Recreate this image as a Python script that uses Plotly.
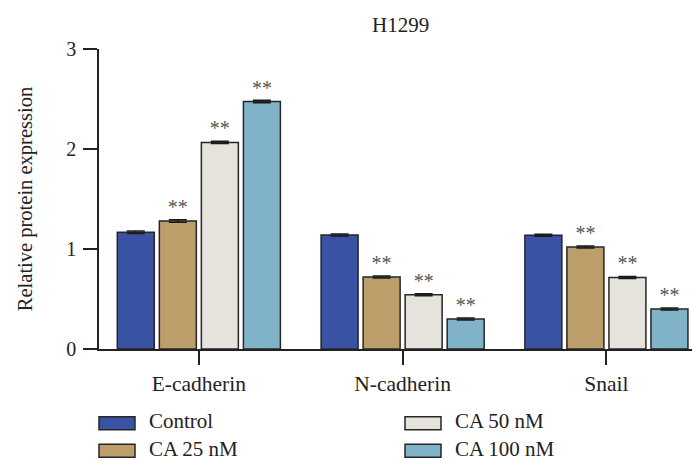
import plotly.graph_objects as go

# ---- data ----
categories = ["E-cadherin", "N-cadherin", "Snail"]
series_names = ["Control", "CA 25 nM", "CA 50 nM", "CA 100 nM"]
control = [1.168, 1.140, 1.138]
ca25 = [1.280, 0.720, 1.019]
ca50 = [2.066, 0.543, 0.716]
ca100 = [2.475, 0.300, 0.400]
errors_control = [0.012, 0.010, 0.010]
errors_ca25 = [0.012, 0.010, 0.010]
errors_ca50 = [0.012, 0.010, 0.010]
errors_ca100 = [0.012, 0.010, 0.010]
significance = ["", "**", "**", "**"]
y_ticks = [0, 1, 2, 3]

colors = ["#3A52A4", "#BC9E6B", "#E6E3DC", "#80B3C8"]
FONT = "Liberation Serif"

values = [control, ca25, ca50, ca100]
errs = [errors_control, errors_ca25, errors_ca50, errors_ca100]

fig = go.Figure()
for name, vals, err, col, sig in zip(series_names, values, errs, colors, significance):
    fig.add_trace(go.Bar(
        x=categories, y=vals, name=name,
        marker=dict(color=col, line=dict(color="#262626", width=1.5)),
        error_y=dict(type="data", array=err, visible=True, color="#1a1a1a",
                     thickness=1.5, width=9),
        text=[sig] * len(vals), textposition="outside",
        textfont=dict(family=FONT, size=20, color="#555555"),
        cliponaxis=False, showlegend=False,
    ))

fig.update_layout(
    width=692, height=460,
    margin=dict(l=99, r=0, t=48.5, b=110.5),
    paper_bgcolor="white", plot_bgcolor="white",
    barmode="group", bargap=0.175, bargroupgap=0.12,
    font=dict(family=FONT, size=20, color="#222222"),
    showlegend=False,
    xaxis=dict(
        range=[-0.49, 2.42], showline=True, linecolor="#222222", linewidth=1.5,
        ticks="outside", ticklen=14, tickwidth=1.5, tickcolor="#222222",
        tickfont=dict(family=FONT, size=21.5, color="#222222"),
        showgrid=False, zeroline=False,
    ),
    yaxis=dict(
        range=[0, 3], tickvals=y_ticks, showline=True, linecolor="#222222", linewidth=1.5,
        ticks="outside", ticklen=14, tickwidth=1.5, tickcolor="#222222",
        tickfont=dict(family=FONT, size=20, color="#222222"),
        ticklabelstandoff=3,
        showgrid=False, zeroline=False,
        title=dict(text="Relative protein expression", font=dict(family=FONT, size=20.5, color="#222222"), standoff=28),
    ),
)

# title
fig.add_annotation(text="H1299", xref="paper", yref="paper", x=0.508, y=1.08,
                   xanchor="center", yanchor="middle", showarrow=False,
                   font=dict(family=FONT, size=21, color="#222222"))

# manual legend (two columns)
PLOT_W, PLOT_H, LEFT, BOTTOM = 593.0, 301.0, 99.0, 349.5
def px_x(x):
    return (x - LEFT) / PLOT_W
def px_y(y):
    return (BOTTOM - y) / PLOT_H

legend_pos = [(99, 424), (99, 451.5), (405, 424), (405, 451.5)]
for (lx, ly), name, col in zip(legend_pos, series_names, colors):
    fig.add_shape(type="rect", xref="paper", yref="paper",
                  x0=px_x(lx), x1=px_x(lx + 36), y0=px_y(ly - 6.5), y1=px_y(ly + 6.5),
                  fillcolor=col, line=dict(color="#262626", width=1.5))
    fig.add_annotation(text=name, xref="paper", yref="paper",
                       x=px_x(lx + 48), y=px_y(ly - 2), xanchor="left", yanchor="middle",
                       showarrow=False, font=dict(family=FONT, size=21, color="#222222"))

fig.write_html("out.html", config={"displayModeBar": False},
               post_script="document.body.style.margin='0';document.body.style.padding='0';")
